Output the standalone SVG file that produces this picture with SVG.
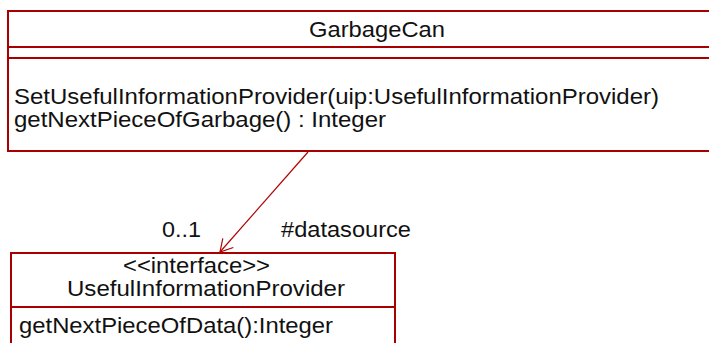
<svg xmlns="http://www.w3.org/2000/svg" width="709" height="343" viewBox="0 0 709 343">
<style>
.box{fill:#ffffff;stroke:#a80000;stroke-width:2}
.div{stroke:#a80000;stroke-width:2}
.t{font-family:"Liberation Sans",Arial,sans-serif;font-size:22px;fill:#111111}
.conn{stroke:#b00000;stroke-width:1.2;fill:none}
</style>
<rect width="709" height="343" fill="#ffffff"/>
<g id="GarbageCan">
<rect class="box" x="8" y="11" width="740" height="140"/>
<line class="div" x1="8" y1="47" x2="748" y2="47"/>
<line class="div" x1="8" y1="58" x2="748" y2="58"/>
<text class="t" x="309" y="37" textLength="136" lengthAdjust="spacingAndGlyphs">GarbageCan</text>
<text class="t" x="14" y="104" textLength="645" lengthAdjust="spacingAndGlyphs">SetUsefulInformationProvider(uip:UsefulInformationProvider)</text>
<text class="t" x="14" y="127" textLength="372" lengthAdjust="spacingAndGlyphs">getNextPieceOfGarbage() : Integer</text>
</g>
<g id="UsefulInformationProvider">
<rect class="box" x="11" y="253" width="384" height="100"/>
<line class="div" x1="11" y1="307" x2="395" y2="307"/>
<text class="t" x="123" y="273" textLength="147" lengthAdjust="spacingAndGlyphs">&lt;&lt;interface&gt;&gt;</text>
<text class="t" x="67" y="296" textLength="278" lengthAdjust="spacingAndGlyphs">UsefulInformationProvider</text>
<text class="t" x="19" y="333" textLength="314" lengthAdjust="spacingAndGlyphs">getNextPieceOfData():Integer</text>
</g>
<g id="connectors">
<line class="conn" x1="308" y1="152" x2="220" y2="252"/>
<polyline class="conn" points="222.8,238.3 220,252 233.3,247.5"/>
<text class="t" x="162" y="237" textLength="39" lengthAdjust="spacingAndGlyphs">0..1</text>
<text class="t" x="281" y="237" textLength="130" lengthAdjust="spacingAndGlyphs">#datasource</text>
</g>
</svg>
